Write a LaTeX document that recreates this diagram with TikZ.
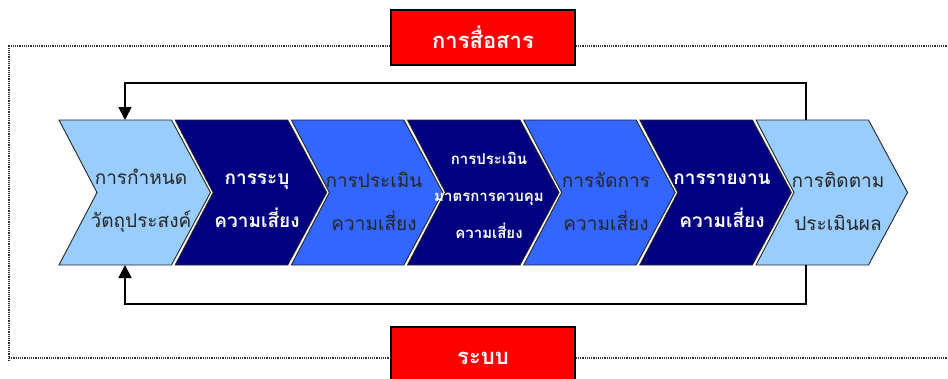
\documentclass[tikz,border=0pt]{standalone}
\usepackage{fontspec}
\newfontfamily\thaifont[Script=Thai]{Loma}
\usetikzlibrary{arrows.meta}

\definecolor{lightstep}{RGB}{153,204,255}
\definecolor{navystep}{RGB}{0,0,128}
\definecolor{bluestep}{RGB}{51,102,255}
\definecolor{boxred}{RGB}{255,0,0}

\tikzset{
  chev/.style={draw=black!85, line width=0.9pt, line join=miter},
  plaintext/.style={align=center, inner sep=0pt, text=black!85,
    font=\thaifont\fontsize{19}{43}\selectfont},
  boldtext/.style={align=center, inner sep=0pt, text=white,
    font=\thaifont\bfseries\fontsize{19}{43}\selectfont},
  redbox/.style={draw=black, line width=1.5pt, fill=boxred, text=white, inner sep=0pt,
    minimum width=184pt, font=\thaifont\bfseries\fontsize{22}{26}\selectfont},
  feedback/.style={draw=black, line width=1.6pt, -{Triangle[length=13pt,width=13pt]}},
  frame/.style={draw=black!80, line width=1.2pt, densely dotted}
}

\begin{document}
\begin{tikzpicture}[x=1pt,y=1pt,yscale=-1]
\useasboundingbox (0,0) rectangle (948,378);
\clip (0,0) rectangle (948,378);

%Shape: chevrons
\foreach \i/\col in {1/lightstep,2/navystep,3/bluestep,4/navystep,5/bluestep,6/navystep,7/lightstep}{
  \pgfmathsetmacro\xa{59+116.17*(\i-1)}
  \draw[chev, fill=\col] (\xa,120) -- ++(112.5,0) -- ++(39,72.5) -- ++(-39,72.5) -- ++(-112.5,0) -- ++(38,-72.5) -- cycle;
}
\coordinate (ctop) at (0,120);
\coordinate (cbot) at (0,265);

% Text Node
\node[plaintext] (s1) at (141,201) {การกำหนด\\วัตถุประสงค์};
\node[boldtext] (s2) at (257,201) {การระบุ\\ความเสี่ยง};
\node[plaintext] (s3) at (374,201) {การประเมิน\\ความเสี่ยง};
\node[boldtext, font=\thaifont\bfseries\fontsize{15}{37}\selectfont] (s4) at (489,195) {การประเมิน\\มาตรการควบคุม\\ความเสี่ยง};
\node[plaintext] (s5) at (606,201) {การจัดการ\\ความเสี่ยง};
\node[boldtext] (s6) at (722,201) {การรายงาน\\ความเสี่ยง};
\node[plaintext] (s7) at (838,201) {การติดตาม\\ประเมินผล};

%Straight Lines: feedback
\coordinate (loopup) at (466,83);
\coordinate (loopdn) at (466,304);
\draw[feedback] ([xshift=-32pt]s7.center |- ctop) |- (loopup) -| ([xshift=-16pt]s1.center |- ctop);
\draw[feedback] ([xshift=-32pt]s7.center |- cbot) |- (loopdn) -| ([xshift=-16pt]s1.center |- cbot);

%Shape: red boxes
\node[redbox, minimum height=55pt] (comm) at (483,37.5) {การสื่อสาร};
\node[redbox, minimum height=62pt] (sys) at (483,358) {ระบบ};

%Dotted frame
\coordinate (ftl) at (9,46);
\coordinate (fbl) at (9,358);
\coordinate (ftr) at (948,46);
\coordinate (fbr) at (948,358);
\draw[frame] (comm.west |- ftl) -- (ftl) -- ([yshift=4pt]fbl);
\draw[frame] (fbl) -- (sys.west |- fbl);
\draw[frame] (comm.east |- ftr) -- (ftr);
\draw[frame] (sys.east |- fbr) -- (fbr);
\end{tikzpicture}
\end{document}
